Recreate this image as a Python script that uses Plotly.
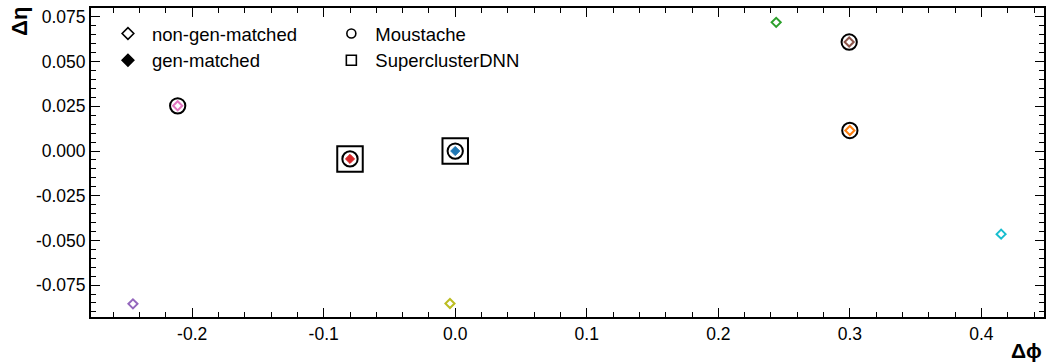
import plotly.graph_objects as go

# ---- data ----
colors = ["#1f77b4", "#ff7f0e", "#2ca02c", "#d62728", "#9467bd",
          "#8c564b", "#e377c2", "#bcbd22", "#17becf"]
dphi = [0.000, 0.300, 0.244, -0.080, -0.245, 0.2995, -0.211, -0.004, 0.415]
deta = [0.0000, 0.0115, 0.0720, -0.0044, -0.0855, 0.0610, 0.0253, -0.0853, -0.0465]
gen_matched = [True, False, False, True, False, False, False, False, False]
moustache = [True, True, False, True, False, True, True, False, False]
dnn = [True, False, False, True, False, False, False, False, False]

x_tickvals = [-0.2, -0.1, 0.0, 0.1, 0.2, 0.3, 0.4]
x_ticktext = ["-0.2", "-0.1", "0.0", "0.1", "0.2", "0.3", "0.4"]
y_tickvals = [-0.075, -0.05, -0.025, 0.0, 0.025, 0.05, 0.075]
y_ticktext = ["-0.075", "-0.050", "-0.025", "0.000", "0.025", "0.050", "0.075"]

FONT = "Liberation Sans, Arial, sans-serif"

fig = go.Figure()

# SuperclusterDNN squares
sx = [x for x, m in zip(dphi, dnn) if m]
sy = [y for y, m in zip(deta, dnn) if m]
fig.add_trace(go.Scatter(x=sx, y=sy, mode="markers", showlegend=False,
                         marker=dict(symbol="square-open", size=25.5, color="black",
                                     line=dict(width=2, color="black"))))
# Moustache circles
cx = [x for x, m in zip(dphi, moustache) if m]
cy = [y for y, m in zip(deta, moustache) if m]
fig.add_trace(go.Scatter(x=cx, y=cy, mode="markers", showlegend=False,
                         marker=dict(symbol="circle-open", size=15.3, color="black",
                                     line=dict(width=2, color="black"))))
# diamonds
for x, y, c, g in zip(dphi, deta, colors, gen_matched):
    fig.add_trace(go.Scatter(
        x=[x], y=[y], mode="markers", showlegend=False,
        marker=dict(symbol="diamond" if g else "diamond-open", size=7,
                    color=c, line=dict(width=2 if not g else 1, color=c))))

# legend entries
leg_items = [
    ("non-gen-matched", "diamond-open", 9, "legend"),
    ("gen-matched", "diamond", 9, "legend2"),
    ("Moustache", "circle-open", 9, "legend3"),
    ("SuperclusterDNN", "square-open", 10, "legend4"),
]
for name, sym, sz, lg in leg_items:
    fig.add_trace(go.Scatter(
        x=[None], y=[None], mode="markers", name=name, legend=lg,
        marker=dict(symbol=sym, size=sz, color="black",
                    line=dict(width=1.6, color="black"))))

legfont = dict(family=FONT, size=18.5, color="black")
legcommon = dict(font=legfont, bgcolor="rgba(0,0,0,0)", borderwidth=0,
                 itemwidth=38, xanchor="left", yanchor="middle")
fig.update_layout(
    legend=dict(x=0.0136, y=0.916, **legcommon),
    legend2=dict(x=0.0136, y=0.8294, **legcommon),
    legend3=dict(x=0.248, y=0.916, **legcommon),
    legend4=dict(x=0.248, y=0.8294, **legcommon),
)

axis_common = dict(
    showline=True, linewidth=2, linecolor="black", mirror="allticks",
    ticks="inside", ticklen=9, tickwidth=1.3, tickcolor="black",
    showgrid=False, zeroline=False,
    tickfont=dict(family=FONT, size=17.5, color="black"),
)
fig.update_xaxes(range=[-0.2769, 0.4476], tickmode="array",
                 tickvals=x_tickvals, ticktext=x_ticktext,
                 minor=dict(dtick=0.02, tick0=0, ticks="inside", ticklen=5, tickwidth=1,
                            tickcolor="black", showgrid=False),
                 **axis_common)
fig.update_yaxes(range=[-0.09286, 0.08003], tickmode="array",
                 tickvals=y_tickvals, ticktext=y_ticktext,
                 minor=dict(dtick=0.005, tick0=0, ticks="inside", ticklen=5, tickwidth=1,
                            tickcolor="black", showgrid=False),
                 **axis_common)

fig.add_annotation(text="Δη", xref="paper", yref="paper", x=-0.0745, y=0.955,
                   xanchor="center", yanchor="middle",
                   textangle=-90, showarrow=False,
                   font=dict(family=FONT, size=22, color="black", weight="bold"))
fig.add_annotation(text="Δϕ", xref="paper", yref="paper", x=1.0, y=-0.11,
                   xanchor="right", yanchor="middle", showarrow=False,
                   font=dict(family=FONT, size=21, color="black", weight="bold"))

fig.update_layout(
    width=1048, height=364,
    margin=dict(l=91, r=2, t=8, b=47, pad=0),
    plot_bgcolor="white", paper_bgcolor="white",
    font=dict(family=FONT, color="black"),
)

fig.write_html("out.html")
